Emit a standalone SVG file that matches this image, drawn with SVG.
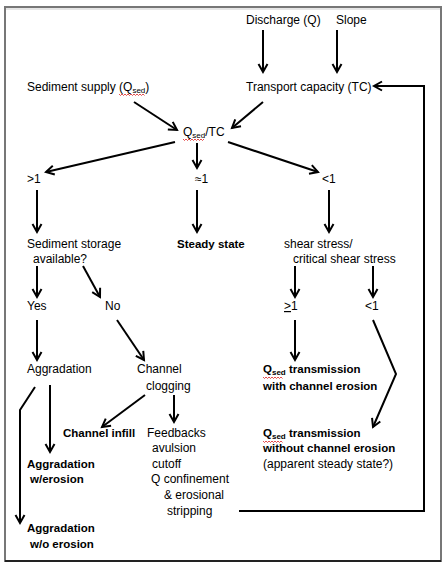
<svg xmlns="http://www.w3.org/2000/svg" width="447" height="567" viewBox="0 0 447 567">
<style>
text{font-family:"Liberation Sans",Arial,sans-serif;font-size:12px;fill:#000}
.b{font-weight:bold;font-size:11.5px}
.c{fill:none;stroke:#000;stroke-width:2;marker-end:url(#ah)}
.n{fill:none;stroke:#000;stroke-width:2}
.sq{fill:none;stroke:#d22;stroke-width:0.8}
</style>
<defs>
<marker id="ah" viewBox="-10 -6 12 12" refX="0" refY="0" markerWidth="12" markerHeight="12" markerUnits="userSpaceOnUse" orient="auto" overflow="visible">
<path d="M-8,-4.5 L0,0 L-8,4.5" fill="none" stroke="#000" stroke-width="2"/>
</marker>
</defs>
<rect x="0" y="0" width="447" height="567" fill="#fff"/>
<rect x="5" y="7" width="436" height="554" fill="#fff" stroke="#777" stroke-width="2"/>
<line x1="6" y1="9" x2="440" y2="9" stroke="#e6e6e6" stroke-width="2"/>
<line x1="5" y1="561" x2="441" y2="561" stroke="#222" stroke-width="2"/>

<g id="connectors">
<path class="c" d="M263 30 L263 72"/>
<path class="c" d="M337 30 L337 72"/>
<path class="c" d="M134 102 L177 130"/>
<path class="c" d="M263 102 L232 128"/>
<path class="c" d="M175 142 L46 172"/>
<path class="c" d="M197 143 L197 168"/>
<path class="c" d="M228 142 L318 172"/>
<path class="c" d="M37 190 L37 232"/>
<path class="c" d="M197 190 L197 232"/>
<path class="c" d="M329 190 L329 232"/>
<path class="c" d="M37 266 L37 297"/>
<path class="c" d="M83 266 L100 297"/>
<path class="c" d="M295 266 L295 297"/>
<path class="c" d="M373 266 L373 297"/>
<path class="c" d="M37 320 L37 360"/>
<path class="c" d="M117 320 L144 360"/>
<path class="c" d="M295 320 L295 360"/>
<path class="c" d="M373 320 L396 374 L373 427"/>
<path class="c" d="M35 387 L20 410 L20 523"/>
<path class="c" d="M50 385 L50 452"/>
<path class="c" d="M145 395 L102 427"/>
<path class="c" d="M174 395 L174 422"/>
<path class="c" d="M239 511 L424 511 L424 86 L374 86"/>
</g>

<g id="discharge"><text x="246" y="24">Discharge (Q)</text></g>
<g id="slope"><text x="336" y="24">Slope</text></g>
<g id="sediment-supply"><text x="27" y="91">Sediment supply (Q<tspan font-size="8" dy="2">sed</tspan><tspan dy="-2">)</tspan></text>
<path class="sq" d="M119 94 l1.5 1.5 l1.5 -1.5 l1.5 1.5 l1.5 -1.5 l1.5 1.5 l1.5 -1.5 l1.5 1.5 l1.5 -1.5 l1.5 1.5 l1.5 -1.5 l1.5 1.5 l1.5 -1.5 l1.5 1.5 l1.5 -1.5 l1.5 1.5 l1.5 -1.5 l1.5 1.5"/></g>
<g id="transport-capacity"><text x="246" y="91">Transport capacity (TC)</text></g>
<g id="ratio"><text x="183" y="136">Q<tspan font-size="8" dy="2">sed</tspan><tspan dy="-2">/TC</tspan></text>
<path class="sq" d="M183 139 l1.5 1.5 l1.5 -1.5 l1.5 1.5 l1.5 -1.5 l1.5 1.5 l1.5 -1.5 l1.5 1.5 l1.5 -1.5 l1.5 1.5 l1.5 -1.5 l1.5 1.5 l1.5 -1.5 l1.5 1.5 l1.5 -1.5"/></g>
<g id="gt1"><text x="27" y="183">&gt;1</text></g>
<g id="approx1"><text x="195" y="183">≈1</text></g>
<g id="lt1"><text x="322" y="183">&lt;1</text></g>
<g id="storage"><text x="27" y="248">Sediment storage</text><text x="33" y="263">available?</text></g>
<g id="steady"><text class="b" x="177" y="248">Steady state</text></g>
<g id="shear"><text x="284" y="248">shear stress/</text><text x="293" y="263">critical shear stress</text></g>
<g id="yes"><text x="27" y="310">Yes</text></g>
<g id="no"><text x="105" y="310">No</text></g>
<g id="ge1"><text x="284" y="310"><tspan text-decoration="underline">&gt;</tspan>1</text></g>
<g id="lt1b"><text x="365" y="310">&lt;1</text></g>
<g id="aggradation"><text x="27" y="373">Aggradation</text></g>
<g id="clogging"><text x="137" y="373">Channel</text><text x="146" y="390">clogging</text></g>
<g id="trans-erosion"><text class="b" x="263" y="373">Q<tspan font-size="8" dy="2">sed</tspan><tspan dy="-2"> transmission</tspan></text><text class="b" x="263" y="390">with channel erosion</text>
<path class="sq" d="M263 377 l1.5 1.5 l1.5 -1.5 l1.5 1.5 l1.5 -1.5 l1.5 1.5 l1.5 -1.5 l1.5 1.5 l1.5 -1.5 l1.5 1.5 l1.5 -1.5 l1.5 1.5 l1.5 -1.5 l1.5 1.5"/></g>
<g id="infill"><text class="b" x="63" y="437">Channel infill</text></g>
<g id="feedbacks"><text x="147" y="437">Feedbacks</text><text x="152" y="452">avulsion</text><text x="152" y="468">cutoff</text><text x="151" y="483">Q confinement</text><text x="164" y="499">&amp; erosional</text><text x="167" y="515">stripping</text></g>
<g id="trans-noerosion"><text class="b" x="263" y="437">Q<tspan font-size="8" dy="2">sed</tspan><tspan dy="-2"> transmission</tspan></text><text class="b" x="263" y="452">without channel erosion</text><text x="263" y="468">(apparent steady state?)</text>
<path class="sq" d="M263 441 l1.5 1.5 l1.5 -1.5 l1.5 1.5 l1.5 -1.5 l1.5 1.5 l1.5 -1.5 l1.5 1.5 l1.5 -1.5 l1.5 1.5 l1.5 -1.5 l1.5 1.5 l1.5 -1.5 l1.5 1.5"/></g>
<g id="agg-erosion"><text class="b" x="27" y="468">Aggradation</text><text class="b" x="30" y="483">w/erosion</text></g>
<g id="agg-noerosion"><text class="b" x="27" y="532">Aggradation</text><text class="b" x="30" y="548">w/o erosion</text></g>
</svg>
